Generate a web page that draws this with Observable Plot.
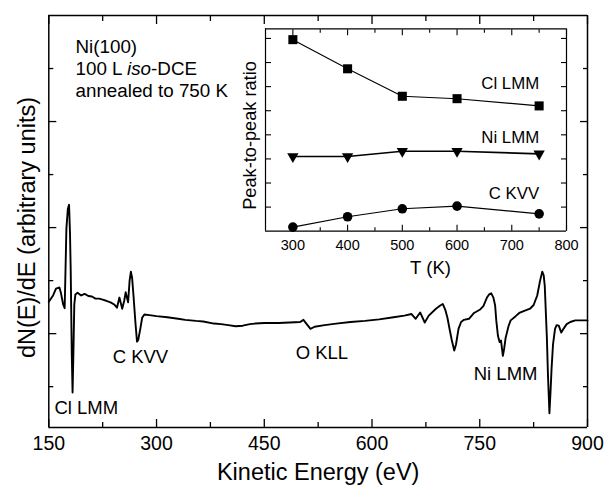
<!DOCTYPE html>
<html><head><meta charset="utf-8">
<script src="https://cdn.jsdelivr.net/npm/d3@7"></script>
<script src="https://cdn.jsdelivr.net/npm/@observablehq/plot@0.6"></script>
<style>
body{margin:0;background:#fff;}
#chart{position:relative;width:606px;height:485px;}
#chart svg{position:absolute;overflow:visible;}
</style></head><body><div id="chart"></div>
<script>
// ---- Main AES spectrum (kinetic energy in eV, dN/dE in arbitrary units) ----
const energy = [150,156,160,164.8,167,170,172.1,174.5,176.5,178.2,179.5,180.5,182,183.1,184.2,185.5,187,190,195,200,205,210,215,220,225,230,236,241,244.9,248.3,252.2,255,257,260.4,262.5,264.3,266,268,270.6,272.8,274.5,277.4,280,283,290,300,315,330,340,355,365,380,390,400,410,420,430,437,450,470,485,500,504.5,508,514.3,520,534,550,570,590,610,630,645,655,660.8,667,673.4,679,689,695,698.5,702,705,708.5,711,714.5,717,720.4,724,728,735,742,750,755,760,763,766,769,771.4,773,775.3,777.7,779.6,782.2,784,786,790,793,800,805,812,820,825,830,834,837,839,840.5,842,843.5,845,847,848.5,850,852,854.8,857,860,863.5,867,871,876,883,890,900];
const signal = [1.60,1.72,1.85,1.87,1.76,1.55,1.48,2.98,3.35,3.43,2.9,2.2,0.6,-0.11,0.6,1.55,1.74,1.77,1.72,1.75,1.71,1.70,1.66,1.66,1.64,1.62,1.59,1.55,1.49,1.68,1.47,1.62,1.78,1.59,2.0,2.17,2.05,1.70,1.21,0.85,0.88,1.09,1.30,1.36,1.35,1.33,1.31,1.28,1.26,1.24,1.23,1.19,1.18,1.16,1.14,1.15,1.18,1.19,1.20,1.20,1.21,1.22,1.26,1.20,1.09,1.13,1.16,1.19,1.22,1.24,1.27,1.31,1.34,1.37,1.28,1.40,1.21,1.34,1.47,1.53,1.56,1.45,1.30,1.05,0.88,0.68,0.80,1.09,1.22,1.26,1.28,1.39,1.45,1.52,1.68,1.74,1.76,1.68,1.53,1.25,0.96,0.84,0.87,0.58,0.72,0.92,1.14,1.25,1.33,1.39,1.43,1.47,1.54,1.72,2.0,2.17,2.1,1.9,1.4,0.9,0.2,-0.50,-0.1,0.35,0.8,1.09,1.16,1.15,1.02,1.10,1.18,1.22,1.25,1.25,1.25];
const xTicksMajor = [150,300,450,600,750,900];
const xTicksMinor = [225,375,525,675,825];
const yTicksMajor = [1,3,5];
const yTicksMinor = [0,2,4,6];
const peakLabels = ["Cl LMM","C KVV","O KLL","Ni LMM"];
const sampleLines = ["Ni(100)","100 L iso-DCE","annealed to 750 K"];

// ---- Inset: peak-to-peak ratio vs annealing temperature ----
const temps = [300,400,500,600,750];
const clLMM = [7.95,6.74,5.6,5.5,5.2];
const niLMM = [3.1,3.1,3.32,3.32,3.21];
const cKVV  = [0.17,0.6,0.93,1.04,0.72];
const seriesNames = ["Cl LMM","Ni LMM","C KVV"];
const insetXMajor = [300,400,500,600,700,800];
const insetXMinor = [350,450,550,650,750];
const insetYTicks = [1,2,3,4,5,6,7,8];

const FONT = "'Liberation Sans', Arial, Helvetica, sans-serif";
const spectrum = energy.map((e, i) => ({e, v: signal[i]}));
const none = () => "";
const mainX = [150, 900], mainY = [-0.77, 7];
const insetX = [250, 800], insetY = [0, 8.4];

const tickAxes = (axis, anchors, ticks, size, sw) =>
  anchors.map(a => axis({anchor: a, ticks, tickSize: -size, tickFormat: none, label: null, strokeWidth: sw}));
const box = (xd, yd, sw) => [
  Plot.ruleX(xd, {strokeWidth: sw}),
  Plot.ruleY(yd, {strokeWidth: sw})
];

const main = Plot.plot({
  width: 606, height: 485,
  marginLeft: 48.3, marginRight: 19, marginTop: 15, marginBottom: 58,
  x: {domain: mainX},
  y: {domain: mainY},
  style: {fontFamily: FONT, background: "transparent", color: "#000"},
  marks: [
    ...tickAxes(Plot.axisX, ["bottom","top"], xTicksMajor, 8, 1.3),
    ...tickAxes(Plot.axisX, ["bottom","top"], xTicksMinor, 5, 1.3),
    ...tickAxes(Plot.axisY, ["left","right"], yTicksMajor, 8, 1.3),
    ...tickAxes(Plot.axisY, ["left","right"], yTicksMinor, 5, 1.3),
    Plot.axisX({anchor: "bottom", ticks: xTicksMajor, tickSize: 0, tickPadding: 9, fontSize: 19.5, label: null}),
    ...box(mainX, mainY, 1.5),
    Plot.line(spectrum, {x: "e", y: "v", strokeWidth: 1.9, strokeLinejoin: "round"}),
    Plot.text(peakLabels, {x: [157.9, 238.9, 493.7, 741.6], y: [-0.40, 0.55, 0.64, 0.23], textAnchor: "start", lineAnchor: "middle", fontSize: 18.5}),
    Plot.text(sampleLines, {x: 187.2, y: [6.40, 5.99, 5.57], textAnchor: "start", lineAnchor: "middle", fontSize: 18.8}),
    Plot.text(["Kinetic Energy (eV)"], {frameAnchor: "bottom", textAnchor: "middle", lineAnchor: "middle", dy: 45, fontSize: 23.5}),
    Plot.text(["dN(E)/dE (arbitrary units)"], {frameAnchor: "left", textAnchor: "middle", lineAnchor: "middle", rotate: -90, dx: -21.3, dy: 6, fontSize: 23.5})
  ]
});
main.style.left = "0px"; main.style.top = "0px";

// italic "iso"
main.querySelectorAll("text").forEach(t => {
  if (t.textContent === "100 L iso-DCE") {
    t.textContent = "";
    const ns = "http://www.w3.org/2000/svg";
    [["100 L ", null], ["iso", "italic"], ["-DCE", null]].forEach(([s, st]) => {
      const ts = document.createElementNS(ns, "tspan");
      ts.textContent = s;
      if (st) ts.setAttribute("font-style", st);
      t.appendChild(ts);
    });
  }
});

const rows = (vals, name) => temps.map((t, i) => ({t, r: vals[i], name}));
const clRows = rows(clLMM, seriesNames[0]);
const niRows = rows(niLMM, seriesNames[1]);
const cRows = rows(cKVV, seriesNames[2]);

const inset = Plot.plot({
  width: 360, height: 260,
  marginLeft: 45, marginRight: 14, marginTop: 8.3, marginBottom: 49.3,
  x: {domain: insetX},
  y: {domain: insetY},
  style: {fontFamily: FONT, background: "transparent", color: "#000"},
  marks: [
    ...tickAxes(Plot.axisX, ["bottom","top"], insetXMajor, 6, 1.1),
    ...tickAxes(Plot.axisX, ["bottom","top"], insetXMinor, 3.5, 1.1),
    ...tickAxes(Plot.axisY, ["left","right"], insetYTicks, 6, 1.1),
    Plot.axisX({anchor: "bottom", ticks: insetXMajor, tickSize: 0, tickPadding: 8.5, fontSize: 14.5, label: null}),
    ...box(insetX, insetY, 1.2),
    Plot.line(clRows, {x: "t", y: "r", strokeWidth: 1.1}),
    Plot.line(niRows, {x: "t", y: "r", strokeWidth: 1.6}),
    Plot.line(cRows, {x: "t", y: "r", strokeWidth: 1.1}),
    Plot.dot(clRows, {x: "t", y: "r", symbol: "square", r: 5.1, fill: "#000", stroke: "none"}),
    Plot.dot(niRows, {x: "t", y: "r", symbol: "triangle", rotate: 180, r: 4.2, fill: "#000", stroke: "none"}),
    Plot.dot(cRows, {x: "t", y: "r", symbol: "circle", r: 4.8, fill: "#000", stroke: "none"}),
    Plot.text(seriesNames, {x: 750, y: [6.13, 3.89, 1.56], textAnchor: "end", lineAnchor: "middle", fontSize: 16.8}),
    Plot.text(["T (K)"], {frameAnchor: "bottom", textAnchor: "middle", lineAnchor: "middle", dx: 14.5, dy: 36.5, fontSize: 18.5}),
    Plot.text(["Peak-to-peak ratio"], {frameAnchor: "left", textAnchor: "middle", lineAnchor: "middle", rotate: -90, dx: -15, dy: 5.5, fontSize: 18.2})
  ]
});
inset.style.left = "220px"; inset.style.top = "20px";

const root = document.getElementById("chart");
root.appendChild(main);
root.appendChild(inset);
</script></body></html>
